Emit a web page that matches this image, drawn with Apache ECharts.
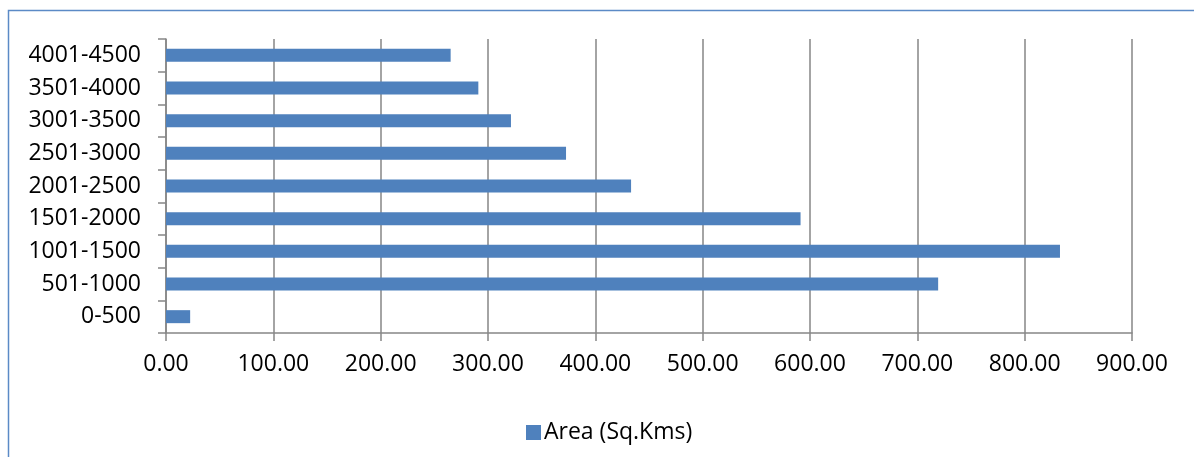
<!DOCTYPE html>
<html>
<head>
<meta charset="utf-8">
<script src="https://cdn.jsdelivr.net/npm/echarts@6/dist/echarts.min.js"></script>
<style>
  html, body { margin: 0; padding: 0; background: #fff; }
  #chart { width: 1194px; height: 457px; }
</style>
</head>
<body>
<div id="chart"></div>
<script>
// Elevation bands (m) and the area falling in each band
const categories = ['0-500', '501-1000', '1001-1500', '1501-2000', '2001-2500',
                    '2501-3000', '3001-3500', '3501-4000', '4001-4500'];
const areaValues = [22.5, 719.4, 832.9, 591.2, 433.3, 372.7, 321.4, 291.0, 265.2];
const seriesName = 'Area (Sq.Kms)';
const xMin = 0, xMax = 900, xStep = 100;

const FONT = '"Open Sans", "Liberation Sans", sans-serif';
const AXIS_GRAY = '#868686';

const chart = echarts.init(document.getElementById('chart'), null, { renderer: 'canvas' });

chart.setOption({
  animation: false,
  backgroundColor: '#ffffff',
  textStyle: { fontFamily: FONT },
  graphic: [{
    type: 'rect',
    shape: { x: 8.5, y: 10.5, width: 1300, height: 600 },
    style: { fill: 'none', stroke: '#5b8ac6', lineWidth: 1.5 },
    silent: true,
    z: -1
  }],
  grid: { left: 166, right: 62, top: 39, bottom: 124, containLabel: false },
  legend: {
    left: 521,
    top: 416,
    itemWidth: 15,
    itemHeight: 15,
    itemGap: 10,
    icon: 'rect',
    textStyle: { fontFamily: FONT, fontSize: 23, color: '#000', padding: [0, 0, 0, -2] },
    data: [seriesName]
  },
  xAxis: {
    type: 'value',
    min: xMin,
    max: xMax,
    interval: xStep,
    axisLine: { show: true, lineStyle: { color: AXIS_GRAY, width: 1.5 } },
    axisTick: { show: true, length: 8, lineStyle: { color: AXIS_GRAY, width: 1.5 } },
    splitLine: { show: true, lineStyle: { color: AXIS_GRAY, width: 1.5 } },
    axisLabel: {
      margin: 20,
      fontFamily: FONT,
      fontSize: 23,
      color: '#000',
      formatter: v => v.toFixed(2)
    }
  },
  yAxis: {
    type: 'category',
    data: categories,
    boundaryGap: true,
    axisLine: { show: true, lineStyle: { color: AXIS_GRAY, width: 1.5 } },
    axisTick: { show: true, length: 8, alignWithLabel: false, lineStyle: { color: AXIS_GRAY, width: 1.5 } },
    axisLabel: { margin: 25, fontFamily: FONT, fontSize: 23, color: '#000' }
  },
  series: [{
    name: seriesName,
    type: 'bar',
    data: areaValues,
    barWidth: 13,
    itemStyle: { color: '#4f81bd' }
  }]
});
</script>
</body>
</html>
